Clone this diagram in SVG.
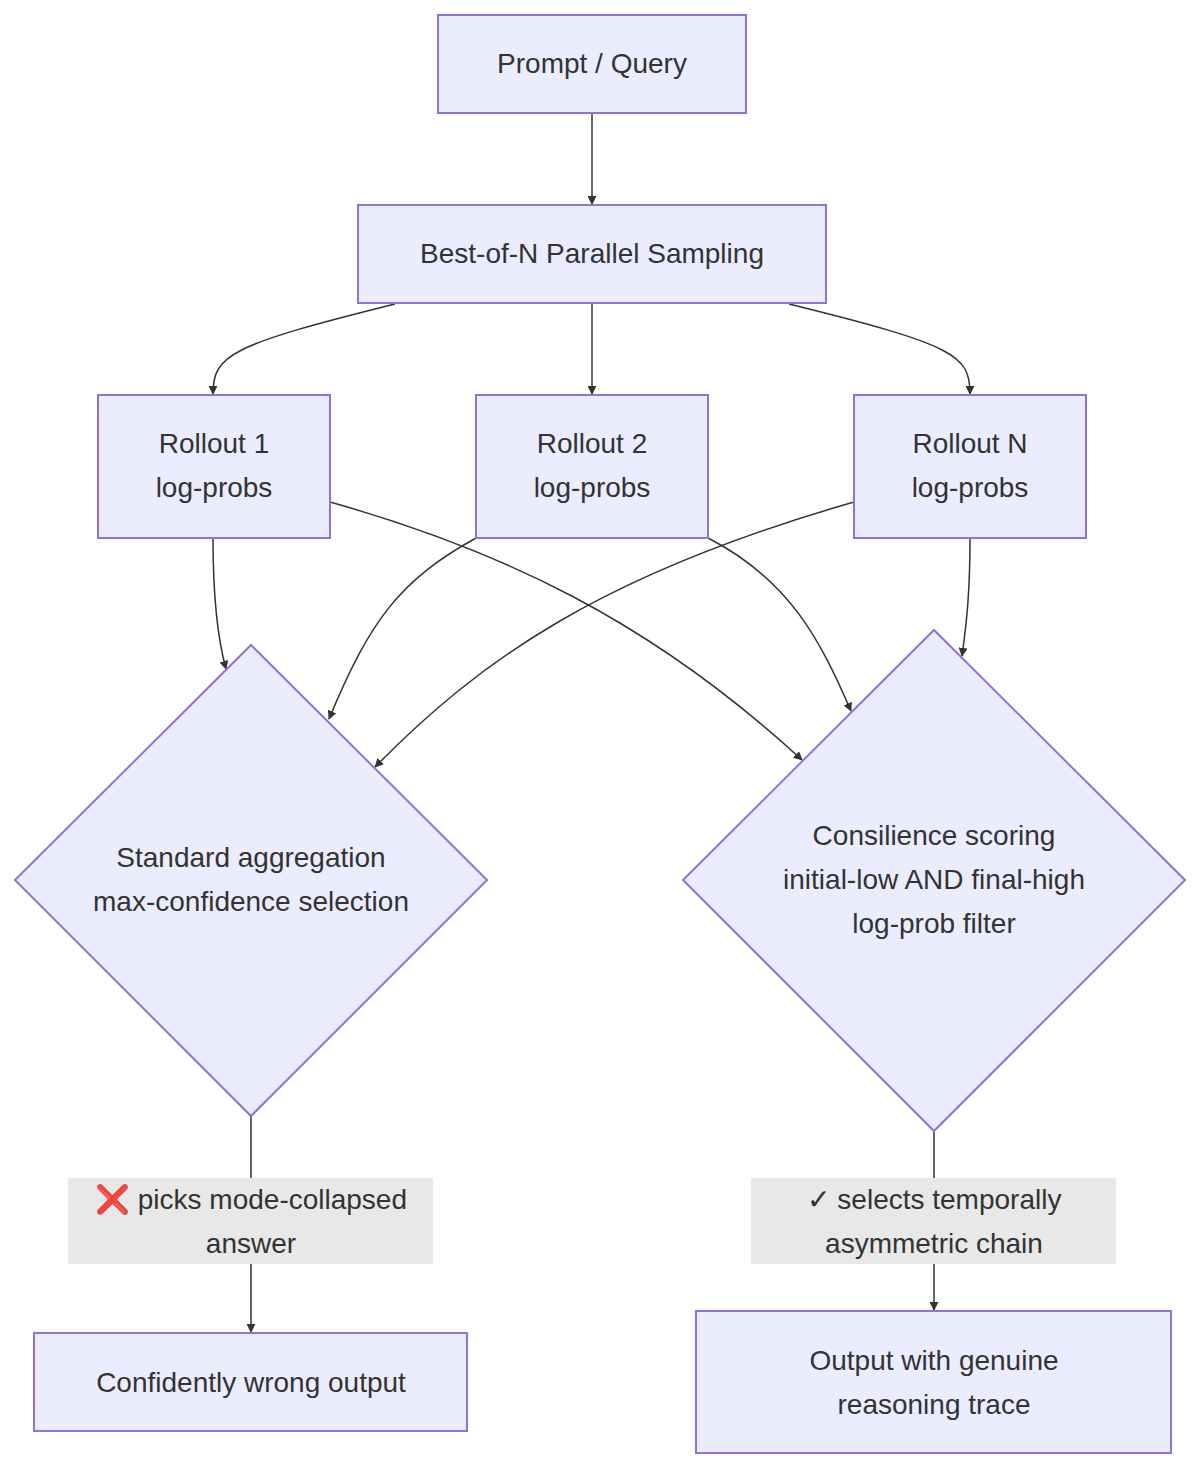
<svg xmlns="http://www.w3.org/2000/svg" width="1200" height="1469" viewBox="0 0 1200 1469">
<style>
.n{fill:#ECECFF;stroke:#9370DB;stroke-width:2}
.t{font-family:"Liberation Sans",Arial,sans-serif;font-size:28px;fill:#333;text-anchor:middle}
.e{fill:none;stroke:#333;stroke-width:1.5}
.lb{fill:#e8e8e8}
</style>
<defs><marker id="a" viewBox="0 0 10 10" refX="9" refY="5" markerWidth="9" markerHeight="9" markerUnits="userSpaceOnUse" orient="auto"><path d="M0,0L10,5L0,10z" fill="#333"/></marker></defs>
<rect width="1200" height="1469" fill="#fff"/>
<g id="edges">
<path class="e" marker-end="url(#a)" d="M592,113L592,204"/>
<path class="e" marker-end="url(#a)" d="M395,304C230,345 213,355 213,394"/>
<path class="e" marker-end="url(#a)" d="M592,304L592,394"/>
<path class="e" marker-end="url(#a)" d="M789,304C955,345 970,355 970,394"/>
<path class="e" marker-end="url(#a)" d="M213,538C213,600 218,640 226,669"/>
<path class="e" marker-end="url(#a)" d="M330,502C500,550 650,620 802,760"/>
<path class="e" marker-end="url(#a)" d="M476,538C400,580 370,620 329,719"/>
<path class="e" marker-end="url(#a)" d="M708,538C790,580 820,640 851,711"/>
<path class="e" marker-end="url(#a)" d="M854,502C600,575 480,660 375,767"/>
<path class="e" marker-end="url(#a)" d="M970,538C970,590 967,620 962,656"/>
<path class="e" marker-end="url(#a)" d="M251,1116L251,1332"/>
<path class="e" marker-end="url(#a)" d="M934,1131L934,1310"/>
</g>
<g id="lbl1"><rect class="lb" x="68" y="1178" width="365" height="86"/><text class="t" x="251" y="1209">❌ picks mode-collapsed</text><text class="t" x="251" y="1253">answer</text></g>
<g id="lbl2"><rect class="lb" x="751" y="1178" width="365" height="86"/><text class="t" x="934" y="1209">✓ selects temporally</text><text class="t" x="934" y="1253">asymmetric chain</text></g>
<g id="prompt"><rect class="n" x="438" y="15" width="308" height="98"/><text class="t" x="592" y="73">Prompt / Query</text></g>
<g id="bon"><rect class="n" x="358" y="205" width="468" height="98"/><text class="t" x="592" y="263">Best-of-N Parallel Sampling</text></g>
<g id="r1"><rect class="n" x="98" y="395" width="232" height="143"/><text class="t" x="214" y="453">Rollout 1</text><text class="t" x="214" y="497">log-probs</text></g>
<g id="r2"><rect class="n" x="476" y="395" width="232" height="143"/><text class="t" x="592" y="453">Rollout 2</text><text class="t" x="592" y="497">log-probs</text></g>
<g id="rn"><rect class="n" x="854" y="395" width="232" height="143"/><text class="t" x="970" y="453">Rollout N</text><text class="t" x="970" y="497">log-probs</text></g>
<g id="std"><path class="n" d="M251,645L487,880L251,1116L15,880Z"/><text class="t" x="251" y="867">Standard aggregation</text><text class="t" x="251" y="911">max-confidence selection</text></g>
<g id="cons"><path class="n" d="M934,630L1185,880L934,1131L683,880Z"/><text class="t" x="934" y="845">Consilience scoring</text><text class="t" x="934" y="889">initial-low AND final-high</text><text class="t" x="934" y="933">log-prob filter</text></g>
<g id="out1"><rect class="n" x="34" y="1333" width="433" height="98"/><text class="t" x="251" y="1392">Confidently wrong output</text></g>
<g id="out2"><rect class="n" x="696" y="1311" width="475" height="142"/><text class="t" x="934" y="1370">Output with genuine</text><text class="t" x="934" y="1414">reasoning trace</text></g>
</svg>
